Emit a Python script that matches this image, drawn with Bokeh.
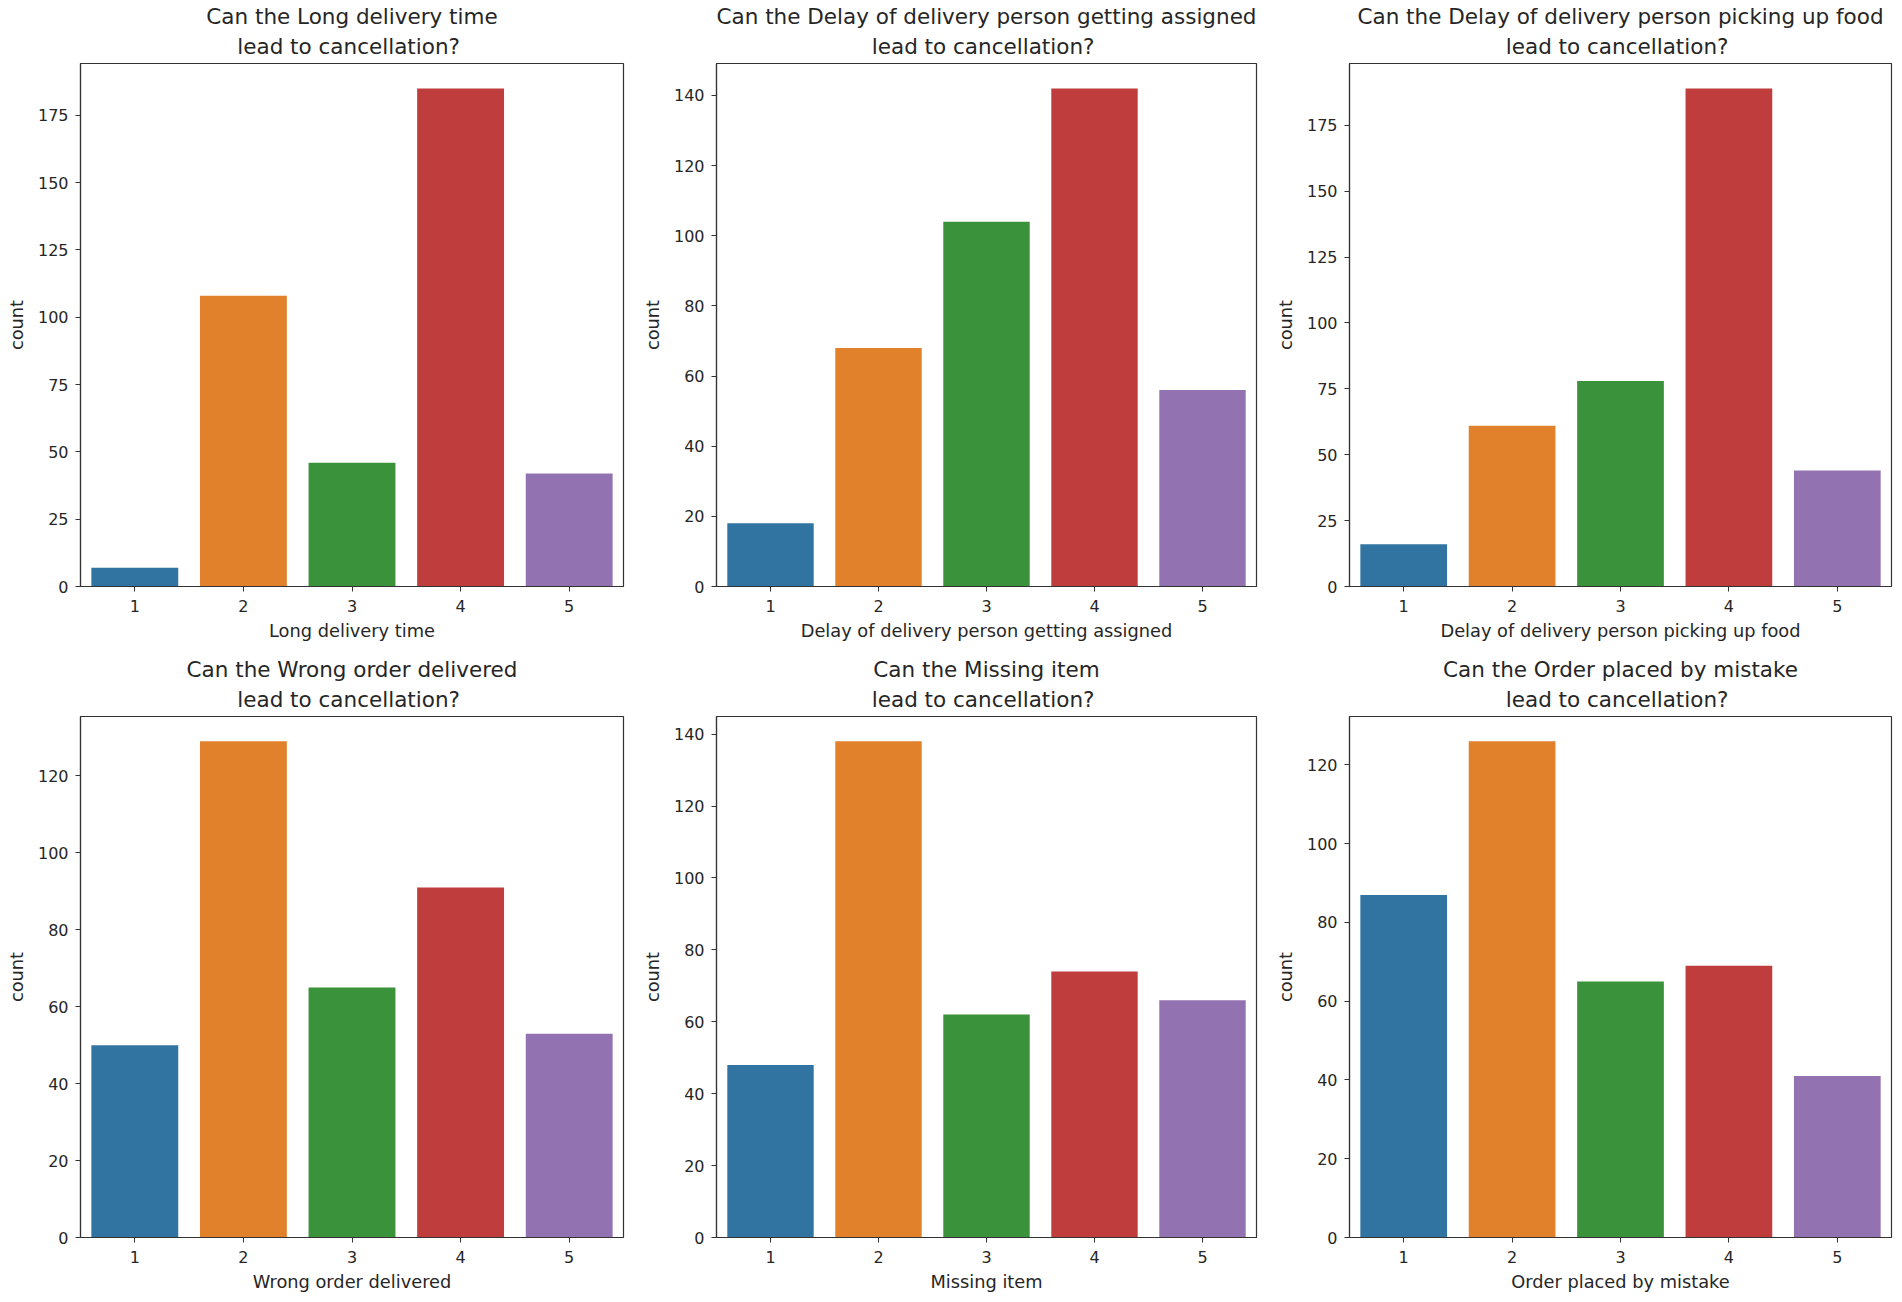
from bokeh.plotting import figure
from bokeh.layouts import column, row
from bokeh.models import FactorRange, Range1d, SingleIntervalTicker, Title
from bokeh.embed import file_html
from bokeh.resources import INLINE

categories = ["1", "2", "3", "4", "5"]
palette = ["#3274a1", "#e1812c", "#3a923a", "#c03d3e", "#9372b2"]

long_delivery_time = [7, 108, 46, 185, 42]
delay_assigned = [18, 68, 104, 142, 56]
delay_pickup = [16, 61, 78, 189, 44]
wrong_order = [50, 129, 65, 91, 53]
missing_item = [48, 138, 62, 74, 66]
order_by_mistake = [87, 126, 65, 69, 41]

names = [
    "Long delivery time",
    "Delay of delivery person getting assigned",
    "Delay of delivery person picking up food",
    "Wrong order delivered",
    "Missing item",
    "Order placed by mistake",
]
series = [long_delivery_time, delay_assigned, delay_pickup,
          wrong_order, missing_item, order_by_mistake]
tick_steps = [25, 20, 25, 20, 20, 20]

FONT = "DejaVu Sans"
TXT = "#262626"

# (border_left, border_right) per column, (border_top, border_bottom) per row
col_borders = [(80, 15), (76, 15), (76, 2)]
col_frames = [543, 542, 544]
row_borders = [(63, 63), (67, 59)]
row_frames = [523, 521]


def title_line(text, standoff):
    return Title(text=text, align="center", text_font=FONT,
                 text_font_size="21.5px", text_font_style="normal",
                 text_color=TXT, standoff=standoff, offset=0)


def make(i):
    r, c = divmod(i, 3)
    bl, br = col_borders[c]
    bt, bb = row_borders[r]
    vals = series[i]
    p = figure(
        x_range=FactorRange(factors=categories),
        y_range=Range1d(0, max(vals) * 1.05),
        width=bl + col_frames[c] + br,
        height=bt + row_frames[r] + bb,
        min_border_left=bl, min_border_right=br,
        min_border_top=bt, min_border_bottom=bb,
        output_backend="svg", toolbar_location=None,
        title_location=None,
    )
    p.vbar(x=categories, top=vals, width=0.8, fill_color=palette,
           line_color=None)
    p.add_layout(title_line(" lead to cancellation?", 9), "above")
    p.add_layout(title_line(f"Can the {names[i]}", -2), "above")
    p.xgrid.grid_line_color = None
    p.ygrid.grid_line_color = None
    p.outline_line_color = "#333333"
    p.outline_line_width = 1.2
    p.background_fill_color = "white"
    p.border_fill_color = "white"
    p.yaxis.ticker = SingleIntervalTicker(interval=tick_steps[i])
    p.xaxis.axis_label = names[i]
    p.yaxis.axis_label = "count"
    for ax in (p.xaxis[0], p.yaxis[0]):
        ax.axis_line_color = "#333333"
        ax.axis_line_width = 1.2
        ax.major_tick_line_color = "#333333"
        ax.major_tick_in = 0
        ax.major_tick_out = 5
        ax.minor_tick_line_color = None
        ax.major_label_text_font = FONT
        ax.major_label_text_font_size = "16px"
        ax.major_label_text_color = TXT
        ax.axis_label_text_font = FONT
        ax.axis_label_text_font_size = "17.8px"
        ax.axis_label_text_font_style = "normal"
        ax.axis_label_text_color = TXT
    p.xaxis.major_label_standoff = 8
    p.xaxis.axis_label_standoff = 5
    p.yaxis.major_label_standoff = 7
    p.yaxis.axis_label_standoff = 8
    return p


figs = [make(i) for i in range(6)]
layout = column(row(*figs[:3], spacing=0), row(*figs[3:], spacing=0), spacing=0)

open("out.html", "w").write(file_html(layout, INLINE))
